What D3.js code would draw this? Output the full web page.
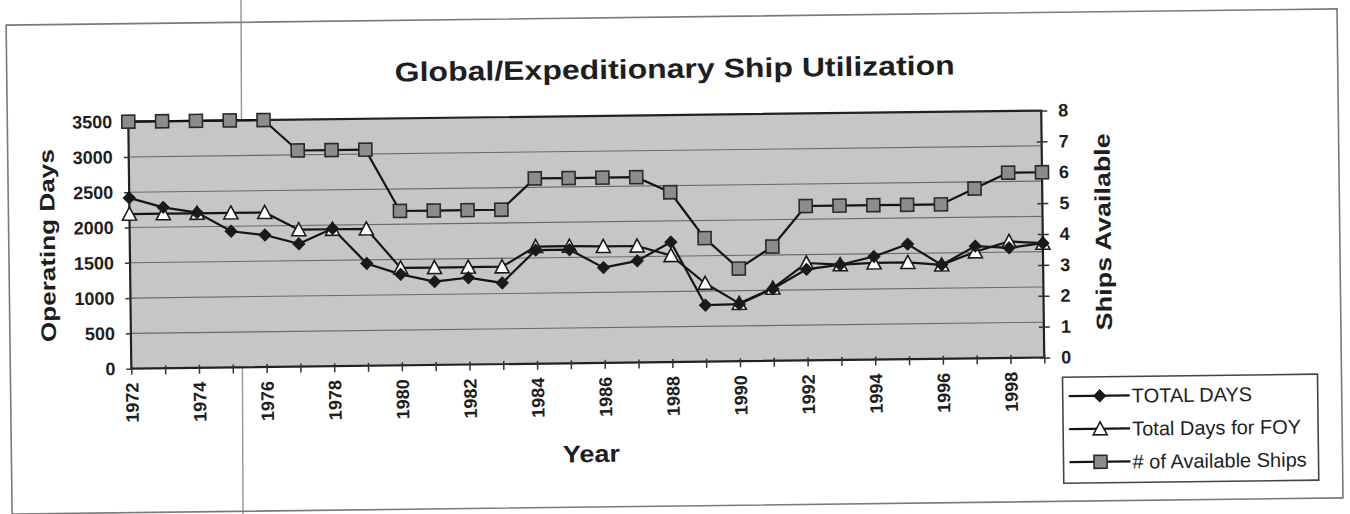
<!DOCTYPE html>
<meta charset="utf-8">
<style>
    body { margin: 0; background: #fff; }
    text { font-family: "Liberation Sans", Arial, sans-serif; fill: #1e1e1e; }
</style>
<body>
<script src="https://d3js.org/d3.v7.min.js"></script>
<script>

// Data
var years = [1972, 1973, 1974, 1975, 1976, 1977, 1978, 1979, 1980, 1981, 1982, 1983, 1984, 1985,
             1986, 1987, 1988, 1989, 1990, 1991, 1992, 1993, 1994, 1995, 1996, 1997, 1998, 1999];
var totalDays = [2420, 2280, 2200, 1930, 1870, 1740, 1950, 1450, 1290, 1180, 1230, 1150, 1610, 1610,
                 1350, 1440, 1700, 800, 810, 1020, 1290, 1350, 1460, 1630, 1330, 1590, 1560, 1620];
var foyDays = [2190, 2190, 2190, 2190, 2190, 1940, 1940, 1940, 1380, 1380, 1380, 1380, 1660, 1660,
               1650, 1650, 1510, 1110, 820, 1030, 1380, 1350, 1370, 1370, 1330, 1510, 1650, 1620];
var ships = [8, 8, 8, 8, 8, 7, 7, 7, 5, 5, 5, 5, 6, 6,
             6, 6, 5.5, 4, 3, 3.7, 5, 5, 5, 5, 5, 5.5, 6, 6];
var leftTicks = [0, 500, 1000, 1500, 2000, 2500, 3000, 3500];
var rightTicks = [0, 1, 2, 3, 4, 5, 6, 7, 8];
var labelYears = [1972, 1974, 1976, 1978, 1980, 1982, 1984, 1986, 1988, 1990, 1992, 1994, 1996, 1998];
var legendNames = ['TOTAL DAYS', 'Total Days for FOY', '# of Available Ships'];

var W = 1350, H = 514;
var plot = {left: 130, right: 1043, top: 115, bottom: 362};

var svg = d3.select('body').append('svg')
    .attr('width', W)
    .attr('height', H);

// scanner edge line (not rotated)
svg.append('line')
    .attr('x1', 241).attr('y1', 0).attr('x2', 243).attr('y2', H)
    .attr('stroke', '#9a9a9a').attr('stroke-width', 1.5);

// the scan is slightly tilted
var g = svg.append('g').attr('transform', 'rotate(-0.7,675,257)');

// outer chart frame
g.append('rect')
    .attr('x', 9).attr('y', 17).attr('width', 1331).attr('height', 489)
    .attr('fill', 'none').attr('stroke', '#7a7a7a').attr('stroke-width', 1.6);

var x = d3.scalePoint()
    .domain(years)
    .range([plot.left, plot.right]);

var yL = d3.scaleLinear().domain([0, 3500]).range([plot.bottom, plot.top]);
var yR = d3.scaleLinear().domain([0, 8]).range([plot.bottom, plot.top]);

// plot area
g.append('rect')
    .attr('x', plot.left).attr('y', plot.top)
    .attr('width', plot.right - plot.left).attr('height', plot.bottom - plot.top)
    .attr('fill', '#c6c6c6');

// gridlines
g.append('g').selectAll('line')
    .data(leftTicks.slice(1, -1))
    .enter().append('line')
    .attr('x1', plot.left).attr('x2', plot.right)
    .attr('y1', function(d) { return yL(d); })
    .attr('y2', function(d) { return yL(d); })
    .attr('stroke', '#6a6a6a').attr('stroke-width', 1.1);

g.append('rect')
    .attr('x', plot.left).attr('y', plot.top)
    .attr('width', plot.right - plot.left).attr('height', plot.bottom - plot.top)
    .attr('fill', 'none').attr('stroke', '#222').attr('stroke-width', 2.2);

// left axis
var leftAxis = g.append('g')
    .attr('transform', 'translate(' + plot.left + ',0)')
    .call(d3.axisLeft(yL).tickValues(leftTicks).tickFormat(d3.format('d'))
        .tickSize(5).tickPadding(11));
leftAxis.select('.domain').remove();
leftAxis.selectAll('line').attr('stroke', '#333').attr('stroke-width', 1.5);
leftAxis.selectAll('text').attr('font-size', 18).attr('font-weight', 'bold');

// right axis
var rightAxis = g.append('g')
    .attr('transform', 'translate(' + plot.right + ',0)')
    .call(d3.axisRight(yR).tickValues(rightTicks).tickSize(6).tickPadding(11));
rightAxis.select('.domain').remove();
rightAxis.selectAll('line').attr('x1', -5).attr('stroke', '#333').attr('stroke-width', 1.5);
rightAxis.selectAll('text').attr('font-size', 18).attr('font-weight', 'bold');

// x axis
var xAxis = g.append('g')
    .attr('transform', 'translate(0,' + plot.bottom + ')')
    .call(d3.axisBottom(x).tickSize(6).tickFormat(function(d) {
        return labelYears.indexOf(d) >= 0 ? d : '';
    }));
xAxis.select('.domain').remove();
xAxis.selectAll('line').attr('y1', -3).attr('stroke', '#333').attr('stroke-width', 1.5);
xAxis.selectAll('text')
    .attr('font-size', 18).attr('font-weight', 'bold')
    .attr('transform', 'rotate(-90)')
    .attr('text-anchor', 'end')
    .attr('x', -14).attr('y', 0).attr('dy', '0.35em');

// titles
g.append('text')
    .attr('x', 677).attr('y', 78)
    .attr('text-anchor', 'middle')
    .attr('font-size', 27).attr('font-weight', 'bold')
    .attr('textLength', 560).attr('lengthAdjust', 'spacingAndGlyphs')
    .text('Global/Expeditionary Ship Utilization');

g.append('text')
    .attr('transform', 'translate(55,238) rotate(-90)')
    .attr('text-anchor', 'middle')
    .attr('font-size', 21).attr('font-weight', 'bold')
    .attr('textLength', 193).attr('lengthAdjust', 'spacingAndGlyphs')
    .text('Operating Days');

g.append('text')
    .attr('transform', 'translate(1111,237) rotate(-90)')
    .attr('text-anchor', 'middle')
    .attr('font-size', 22).attr('font-weight', 'bold')
    .attr('textLength', 197).attr('lengthAdjust', 'spacingAndGlyphs')
    .text('Ships Available');

g.append('text')
    .attr('x', 589).attr('y', 461)
    .attr('text-anchor', 'middle')
    .attr('font-size', 24).attr('font-weight', 'bold')
    .attr('textLength', 57).attr('lengthAdjust', 'spacingAndGlyphs')
    .text('Year');

// markers
function diamond(sel) {
    sel.append('path').attr('d', 'M0,-6L6,0L0,6L-6,0Z')
        .attr('fill', '#1a1a1a').attr('stroke', '#1a1a1a').attr('stroke-width', 1);
}
function triangle(sel) {
    sel.append('path').attr('d', 'M0,-7L7,6L-7,6Z')
        .attr('fill', '#fff').attr('stroke', '#1a1a1a').attr('stroke-width', 1.6);
}
function square(sel) {
    sel.append('rect').attr('x', -6.5).attr('y', -6.5).attr('width', 13).attr('height', 13)
        .attr('fill', '#8c8c8c').attr('stroke', '#2a2a2a').attr('stroke-width', 1.6);
}

var series = [
    {values: ships, y: yR, marker: square},
    {values: foyDays, y: yL, marker: triangle},
    {values: totalDays, y: yL, marker: diamond}
];

series.forEach(function(s) {
    var line = d3.line()
        .x(function(d, i) { return x(years[i]); })
        .y(function(d) { return s.y(d); });
    g.append('path')
        .datum(s.values)
        .attr('d', line)
        .attr('fill', 'none')
        .attr('stroke', '#151515')
        .attr('stroke-width', 2.2);
});

series.forEach(function(s) {
    g.append('g').selectAll('g')
        .data(s.values)
        .enter().append('g')
        .attr('transform', function(d, i) {
            return 'translate(' + x(years[i]) + ',' + s.y(d) + ')';
        })
        .call(s.marker);
});

// legend
var legend = g.append('g');
legend.append('rect')
    .attr('x', 1061).attr('y', 382).attr('width', 255).attr('height', 106)
    .attr('fill', '#fff').attr('stroke', '#444').attr('stroke-width', 1.6);

var legendMarkers = [diamond, triangle, square];
legendNames.forEach(function(name, i) {
    var ly = 401 + i * 33;
    legend.append('line')
        .attr('x1', 1067).attr('x2', 1128).attr('y1', ly).attr('y2', ly)
        .attr('stroke', '#151515').attr('stroke-width', 2.2);
    legend.append('g')
        .attr('transform', 'translate(1098,' + ly + ')')
        .call(legendMarkers[i]);
    legend.append('text')
        .attr('x', 1130).attr('y', ly).attr('dy', '0.36em')
        .attr('font-size', 20)
        .text(name);
});

</script>
</body>
